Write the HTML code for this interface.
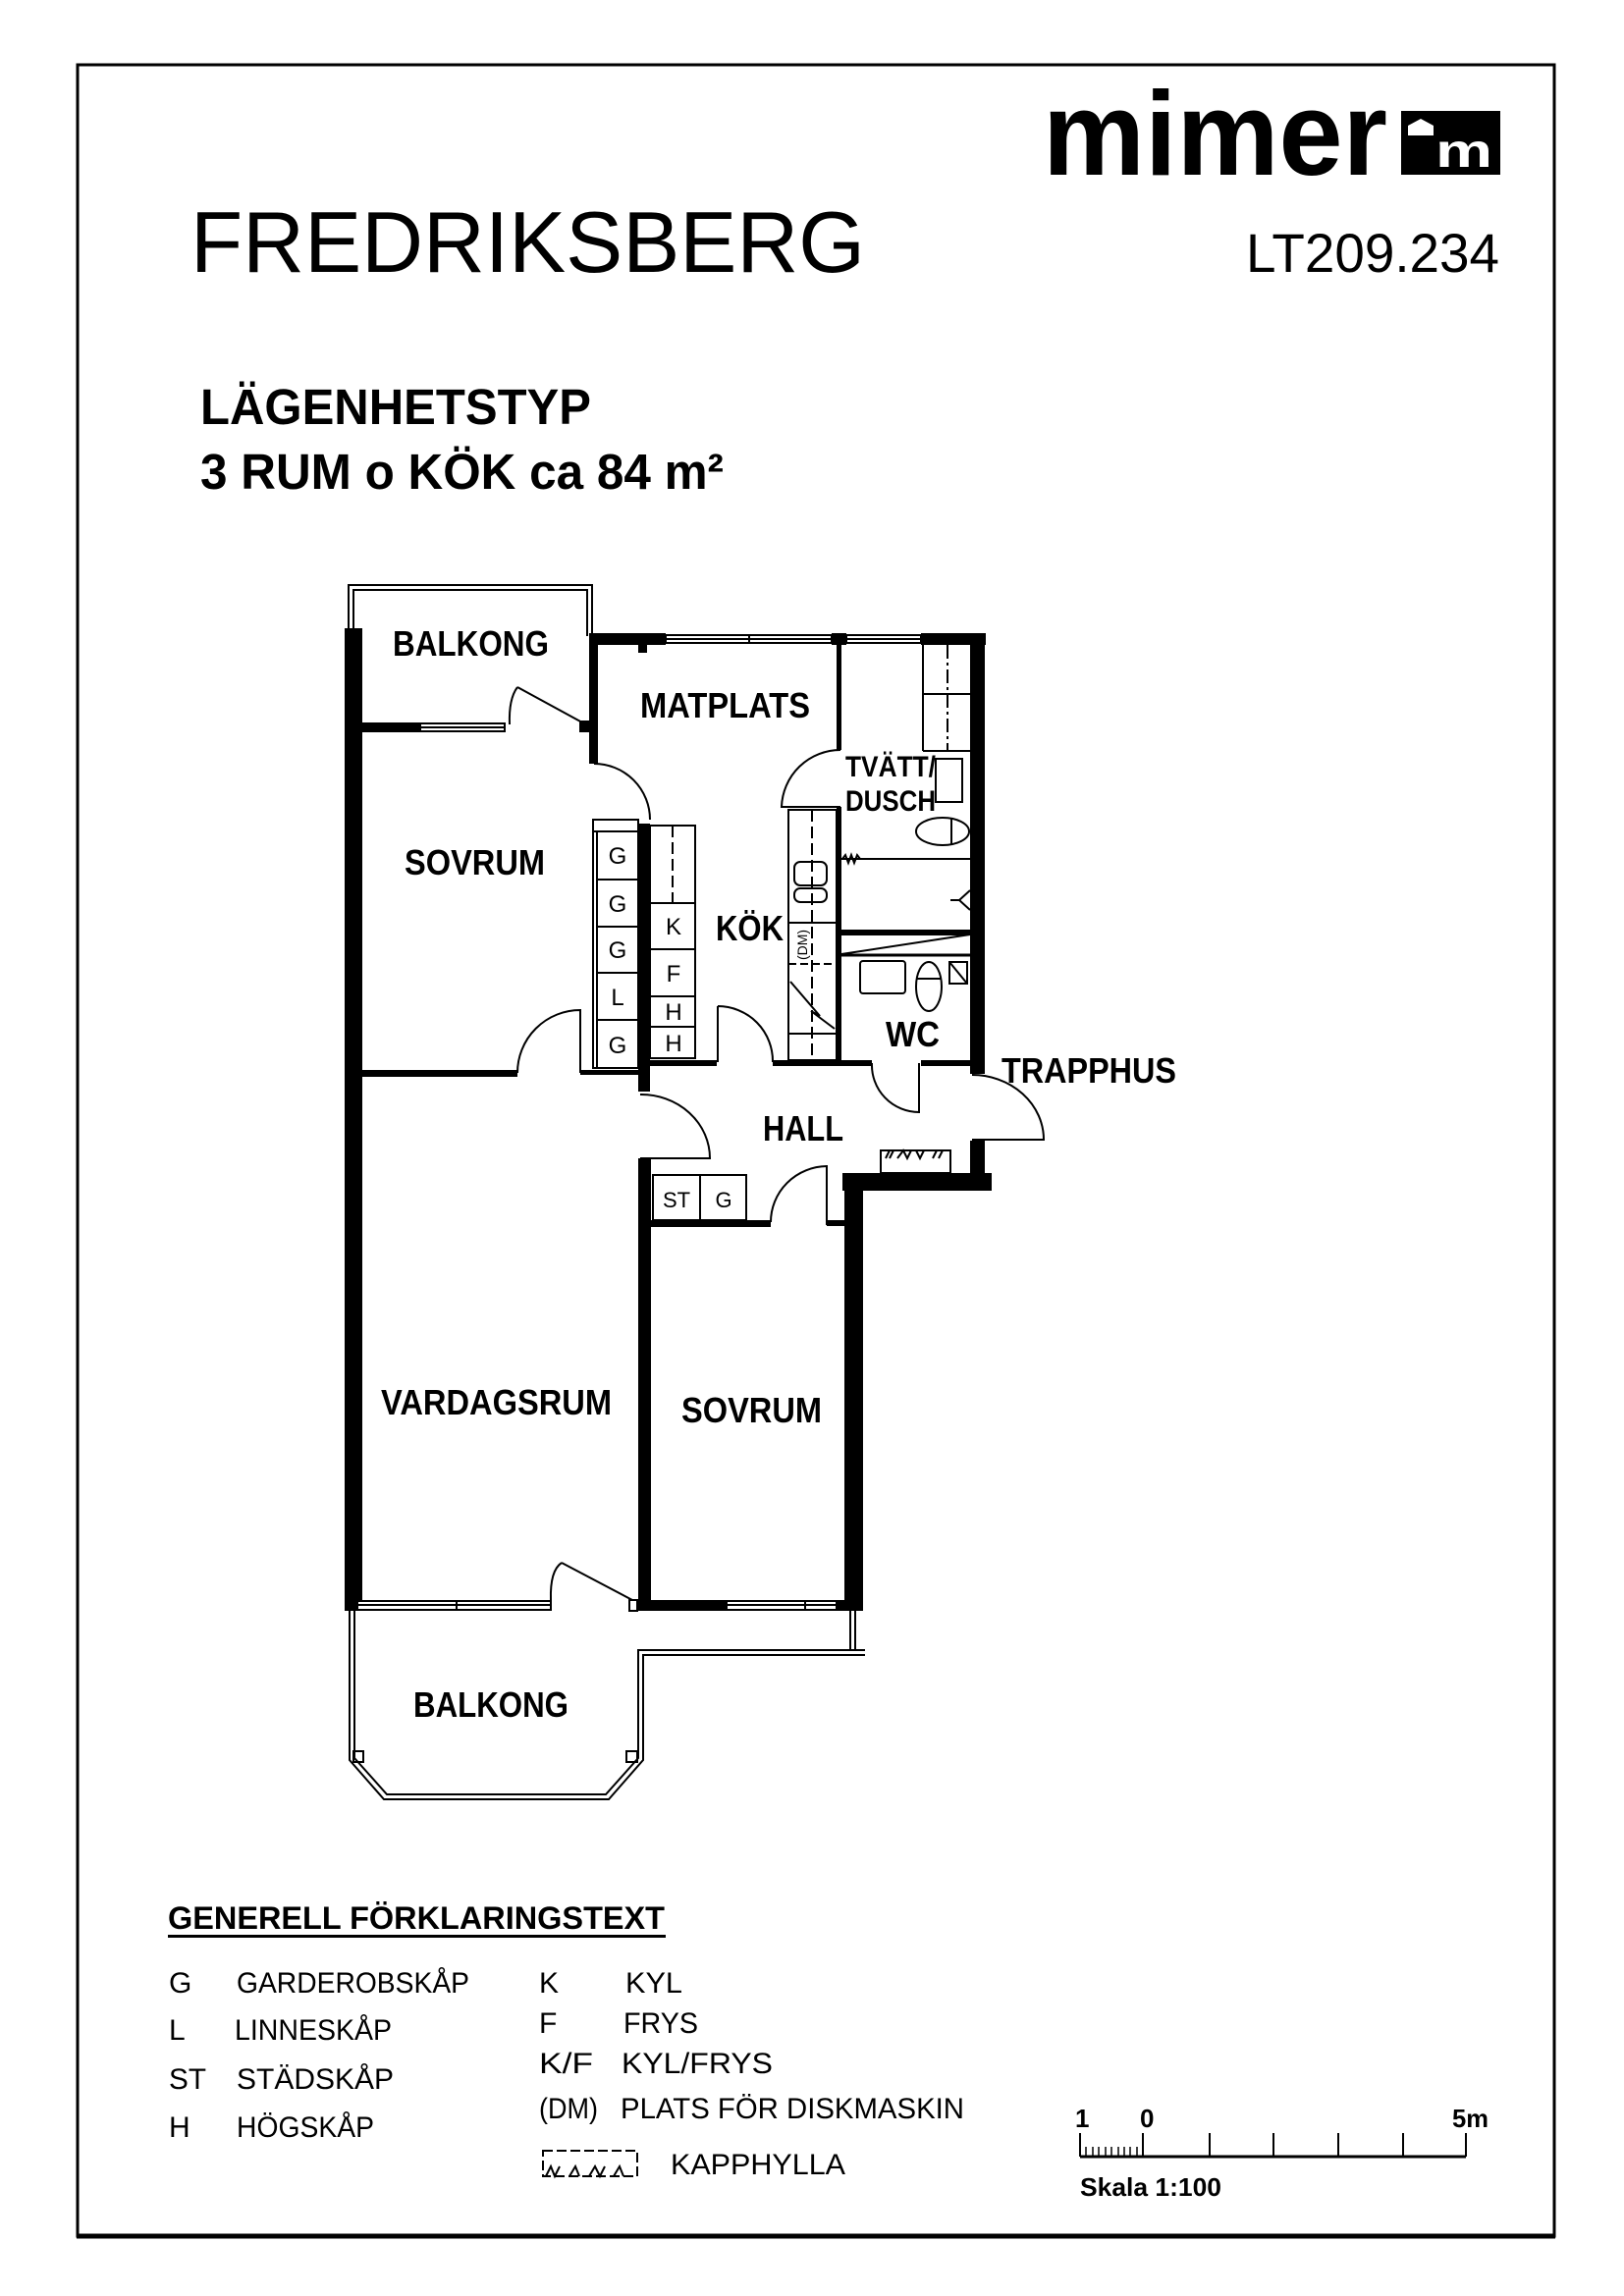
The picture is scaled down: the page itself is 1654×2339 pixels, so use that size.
<!DOCTYPE html>
<html><head><meta charset="utf-8"><style>
html,body{margin:0;padding:0;background:#fff}
svg{display:block}
text{font-family:"Liberation Sans",sans-serif}
.r{font-weight:bold;font-size:36px}
.lg{font-size:30px;font-weight:normal}
.cl{font-size:24px}
</style></head><body>
<svg width="1654" height="2339" viewBox="0 0 1654 2339" xmlns="http://www.w3.org/2000/svg">
<rect x="79" y="66" width="1504" height="2212" fill="none" stroke="#000" stroke-width="3"/>
<line x1="78" y1="2278" x2="1584" y2="2278" stroke="#000" stroke-width="5"/>

<!-- header -->
<text x="1062" y="178" font-weight="bold" font-size="122" textLength="351" lengthAdjust="spacingAndGlyphs">mimer</text>
<rect x="1427" y="113" width="101" height="65" fill="#000"/>
<path d="M1434 138 V128 L1447 121 L1460 128 V138 Z" fill="#fff"/>
<text x="1462" y="170" font-weight="bold" font-size="48" fill="#fff" textLength="58" lengthAdjust="spacingAndGlyphs">m</text>
<text x="194" y="277" font-size="88" textLength="687" lengthAdjust="spacingAndGlyphs">FREDRIKSBERG</text>
<text x="1269" y="277" font-size="56" textLength="258" lengthAdjust="spacingAndGlyphs">LT209.234</text>
<text x="204" y="432" font-size="51" font-weight="bold" textLength="398" lengthAdjust="spacingAndGlyphs">LÄGENHETSTYP</text>
<text x="204" y="498" font-size="51" font-weight="bold" textLength="533" lengthAdjust="spacingAndGlyphs">3 RUM o KÖK ca 84 m²</text>

<g stroke="#000" fill="none" stroke-width="2">
<!-- balcony 1 rail -->
<polyline points="355,645 355,596 603,596 603,648"/>
<polyline points="360,645 360,601 598,601 598,648"/>
</g>
<g fill="#000">
<!-- outer left wall -->
<rect x="351" y="640" width="18" height="1001"/>
<!-- balcony1 bottom wall -->
<rect x="369" y="736" width="59" height="10"/>
<rect x="590" y="734" width="10" height="12"/>
<!-- matplats top wall -->
<rect x="600" y="645" width="78" height="12"/>
<rect x="847" y="645" width="15" height="12"/>
<rect x="938" y="645" width="66" height="12"/>
<rect x="650" y="657" width="9" height="8"/>
<rect x="600" y="645" width="9" height="133"/>
<!-- right wall -->
<rect x="988" y="645" width="15" height="449"/>
<rect x="988" y="1162" width="15" height="35"/>
<rect x="852" y="657" width="5" height="107"/>
<rect x="852" y="822" width="5" height="262"/>
<!-- divider -->
<rect x="857" y="947" width="131" height="6"/>
<!-- walls around hall -->
<rect x="369" y="1090" width="158" height="7"/>
<rect x="591" y="1090" width="61" height="5"/>
<rect x="650" y="839" width="12" height="273"/>
<rect x="650" y="1180" width="13" height="461"/>
<rect x="662" y="1080" width="68" height="6"/>
<rect x="787" y="1080" width="101" height="6"/>
<rect x="938" y="1080" width="50" height="6"/>
<rect x="858" y="1195" width="152" height="18"/>
<rect x="860" y="1195" width="19" height="446"/>
<rect x="662" y="1243" width="123" height="7"/>
<rect x="842" y="1243" width="18" height="6"/>
<!-- bottom wall -->
<rect x="651" y="1630" width="89" height="11"/>
<rect x="852" y="1630" width="27" height="11"/>
</g>

<g stroke="#000" fill="#fff" stroke-width="2">
<!-- windows -->
<rect x="428" y="737" width="86" height="8"/><line x1="428" y1="741" x2="514" y2="741"/>
<rect x="678" y="647" width="169" height="8"/><line x1="678" y1="651" x2="847" y2="651"/><line x1="763" y1="647" x2="763" y2="655"/>
<rect x="862" y="647" width="76" height="8"/><line x1="862" y1="651" x2="938" y2="651"/>
<rect x="364" y="1631" width="197" height="9"/><line x1="364" y1="1635" x2="561" y2="1635"/><line x1="465" y1="1631" x2="465" y2="1640"/>
<rect x="740" y="1631" width="112" height="9"/><line x1="740" y1="1635" x2="852" y2="1635"/><line x1="820" y1="1631" x2="820" y2="1640"/>
<rect x="641" y="1630" width="8" height="11"/>
</g>

<g stroke="#000" fill="none" stroke-width="2">
<!-- doors -->
<line x1="527" y1="700" x2="593" y2="736"/><path d="M519 738 Q518 712 527 700"/>
<path d="M605 778 A57 57 0 0 1 662 835"/>
<path d="M856 764 A60 60 0 0 0 796 822 H856"/>
<path d="M527 1093 A64 64 0 0 1 591 1029 V1093"/>
<path d="M731 1025 V1082 M731 1025 A56 56 0 0 1 787 1082"/>
<path d="M888 1083 A48 48 0 0 0 936 1133 V1083"/>
<path d="M652 1115 A70 65 0 0 1 723 1180 H652"/>
<path d="M990 1095 A73 66 0 0 1 1063 1161 H990"/>
<path d="M785 1245 A58 57 0 0 1 842 1188 V1248"/>
<line x1="644" y1="1630" x2="572" y2="1592"/><path d="M561 1630 Q560 1600 572 1592"/>
<!-- tvatt -->
<line x1="940" y1="657" x2="940" y2="765"/>
<line x1="940" y1="707" x2="988" y2="707"/>
<line x1="940" y1="765" x2="988" y2="765"/>
<line x1="965" y1="657" x2="965" y2="765" stroke-dasharray="14 4 3 4"/>
<rect x="953" y="773" width="27" height="44"/>
<ellipse cx="960" cy="847" rx="27" ry="14"/><line x1="969" y1="833" x2="969" y2="861"/>
<line x1="857" y1="875" x2="988" y2="875"/>
<path d="M858 875 l3 -4 3 8 3 -8 3 8 3 -8 3 4"/>
<path d="M988 907 L977 917 L988 927"/><line x1="968" y1="917" x2="977" y2="917"/>
<line x1="857" y1="972" x2="988" y2="952"/>
<line x1="857" y1="973" x2="988" y2="973" stroke-width="3"/>
<rect x="876" y="979" width="46" height="33" rx="3"/>
<ellipse cx="946" cy="1005" rx="13" ry="25"/><line x1="933" y1="997" x2="959" y2="997"/>
<rect x="967" y="980" width="18" height="22"/><line x1="967" y1="980" x2="985" y2="1002"/>
<!-- kitchen counter -->
<rect x="803" y="825" width="49" height="255"/>
<line x1="827" y1="825" x2="827" y2="1080" stroke-dasharray="12 5"/>
<rect x="809" y="878" width="33" height="24" rx="6"/>
<rect x="809" y="905" width="33" height="14" rx="6"/>
<line x1="803" y1="940" x2="852" y2="940"/>
<line x1="803" y1="982" x2="852" y2="982" stroke-dasharray="8 4"/>
<path d="M805 1000 L835 1035 L826 1030 L850 1048"/>
<line x1="803" y1="1053" x2="852" y2="1053"/>
<!-- KFH column -->
<rect x="662" y="841" width="46" height="237"/>
<line x1="662" y1="920" x2="708" y2="920"/><line x1="662" y1="967" x2="708" y2="967"/>
<line x1="662" y1="1015" x2="708" y2="1015"/><line x1="662" y1="1046" x2="708" y2="1046"/>
<line x1="685" y1="841" x2="685" y2="920" stroke-dasharray="12 5"/>
<!-- G column -->
<rect x="604" y="835" width="46" height="253"/>
<line x1="604" y1="847" x2="650" y2="847"/>
<line x1="608" y1="847" x2="608" y2="1088"/>
<line x1="608" y1="896" x2="650" y2="896"/><line x1="608" y1="944" x2="650" y2="944"/>
<line x1="608" y1="991" x2="650" y2="991"/><line x1="608" y1="1039" x2="650" y2="1039"/>
<!-- ST G -->
<rect x="665" y="1197" width="95" height="46"/><line x1="713" y1="1197" x2="713" y2="1243"/>
<!-- kapphylla -->
<rect x="897" y="1172" width="71" height="23"/>
<path d="M902 1180 l4 -8 M906 1180 l4 -8 M914 1180 l6 -8 4 8 4 -8 M933 1172 l4 8 4 -8 M950 1180 l4 -8 M956 1180 l4 -8"/>
<!-- balcony 2 rail -->
<polyline points="356,1641 356,1793 391,1833 620,1833 655,1793 655,1686 881,1686"/>
<polyline points="361,1641 361,1791 394,1828 617,1828 650,1791 650,1681 881,1681"/>
<line x1="866" y1="1641" x2="866" y2="1681"/><line x1="871" y1="1641" x2="871" y2="1681"/>
<rect x="360" y="1784" width="10" height="11"/><rect x="638" y="1784" width="11" height="11"/>
</g>

<!-- cabinet letters -->
<g class="cl" text-anchor="middle">
<text x="629" y="880">G</text><text x="629" y="929">G</text><text x="629" y="976">G</text>
<text x="629" y="1024">L</text><text x="629" y="1073">G</text>
<text x="686" y="952">K</text><text x="686" y="1000">F</text><text x="686" y="1039">H</text><text x="686" y="1071">H</text>
<text x="689" y="1230" font-size="22">ST</text><text x="737" y="1230" font-size="22">G</text>
</g>
<text x="0" y="0" font-size="14" transform="translate(822,978) rotate(-90)">(DM)</text>

<!-- room labels -->
<g class="r">
<text x="400" y="668" textLength="159" lengthAdjust="spacingAndGlyphs">BALKONG</text>
<text x="652" y="731" textLength="173" lengthAdjust="spacingAndGlyphs">MATPLATS</text>
<text x="412" y="891" textLength="143" lengthAdjust="spacingAndGlyphs">SOVRUM</text>
<text x="729" y="958" textLength="69" lengthAdjust="spacingAndGlyphs">KÖK</text>
<text x="861" y="791" font-size="30" textLength="92" lengthAdjust="spacingAndGlyphs">TVÄTT/</text>
<text x="861" y="826" font-size="30" textLength="92" lengthAdjust="spacingAndGlyphs">DUSCH</text>
<text x="902" y="1066" textLength="55" lengthAdjust="spacingAndGlyphs">WC</text>
<text x="1020" y="1103" textLength="178" lengthAdjust="spacingAndGlyphs">TRAPPHUS</text>
<text x="777" y="1162" textLength="82" lengthAdjust="spacingAndGlyphs">HALL</text>
<text x="388" y="1441" textLength="235" lengthAdjust="spacingAndGlyphs">VARDAGSRUM</text>
<text x="694" y="1449" textLength="143" lengthAdjust="spacingAndGlyphs">SOVRUM</text>
<text x="421" y="1749" textLength="158" lengthAdjust="spacingAndGlyphs">BALKONG</text>
</g>

<!-- legend -->
<text x="171" y="1965" font-size="32" font-weight="bold" textLength="506" lengthAdjust="spacingAndGlyphs">GENERELL FÖRKLARINGSTEXT</text>
<rect x="171" y="1971" width="507" height="3" fill="#000"/>
<g class="lg">
<text x="172" y="2030">G</text><text x="241" y="2030" textLength="237" lengthAdjust="spacingAndGlyphs">GARDEROBSKÅP</text>
<text x="172" y="2078">L</text><text x="239" y="2078" textLength="160" lengthAdjust="spacingAndGlyphs">LINNESKÅP</text>
<text x="172" y="2128" textLength="38" lengthAdjust="spacingAndGlyphs">ST</text><text x="241" y="2128" textLength="160" lengthAdjust="spacingAndGlyphs">STÄDSKÅP</text>
<text x="172" y="2177">H</text><text x="241" y="2177" textLength="140" lengthAdjust="spacingAndGlyphs">HÖGSKÅP</text>
<text x="549" y="2030">K</text><text x="637" y="2030" textLength="58" lengthAdjust="spacingAndGlyphs">KYL</text>
<text x="549" y="2071">F</text><text x="635" y="2071" textLength="76" lengthAdjust="spacingAndGlyphs">FRYS</text>
<text x="549" y="2112" textLength="55" lengthAdjust="spacingAndGlyphs">K/F</text><text x="633" y="2112" textLength="154" lengthAdjust="spacingAndGlyphs">KYL/FRYS</text>
<text x="549" y="2158" textLength="60" lengthAdjust="spacingAndGlyphs">(DM)</text><text x="632" y="2158" textLength="350" lengthAdjust="spacingAndGlyphs">PLATS FÖR DISKMASKIN</text>
<text x="683" y="2215" textLength="178" lengthAdjust="spacingAndGlyphs">KAPPHYLLA</text>
</g>
<g stroke="#000" fill="none" stroke-width="2">
<rect x="553" y="2191" width="96" height="26" stroke-dasharray="10 4"/>
<path d="M556 2217 l5 -10 4 10 5 -10 M580 2217 l6 -10 4 10 M600 2217 l6 -10 5 10 5 -10 M625 2217 l6 -10 4 10"/>
<!-- scale bar -->
<line x1="1100" y1="2197" x2="1493" y2="2197" stroke-width="3"/>
<path d="M1100 2173 V2197 M1164 2173 V2197 M1232 2173 V2197 M1297 2173 V2197 M1363 2173 V2197 M1429 2173 V2197 M1493 2173 V2197"/>
<path d="M1106 2187 V2197 M1113 2187 V2197 M1119 2187 V2197 M1126 2187 V2197 M1132 2187 V2197 M1139 2187 V2197 M1145 2187 V2197 M1151 2187 V2197 M1158 2187 V2197" stroke-width="1.5"/>
</g>
<g font-weight="bold" font-size="26">
<text x="1095" y="2167">1</text><text x="1161" y="2167">0</text>
<text x="1479" y="2167" textLength="37" lengthAdjust="spacingAndGlyphs">5m</text>
<text x="1100" y="2237" font-size="26" textLength="144" lengthAdjust="spacingAndGlyphs">Skala 1:100</text>
</g>
</svg>
</body></html>
